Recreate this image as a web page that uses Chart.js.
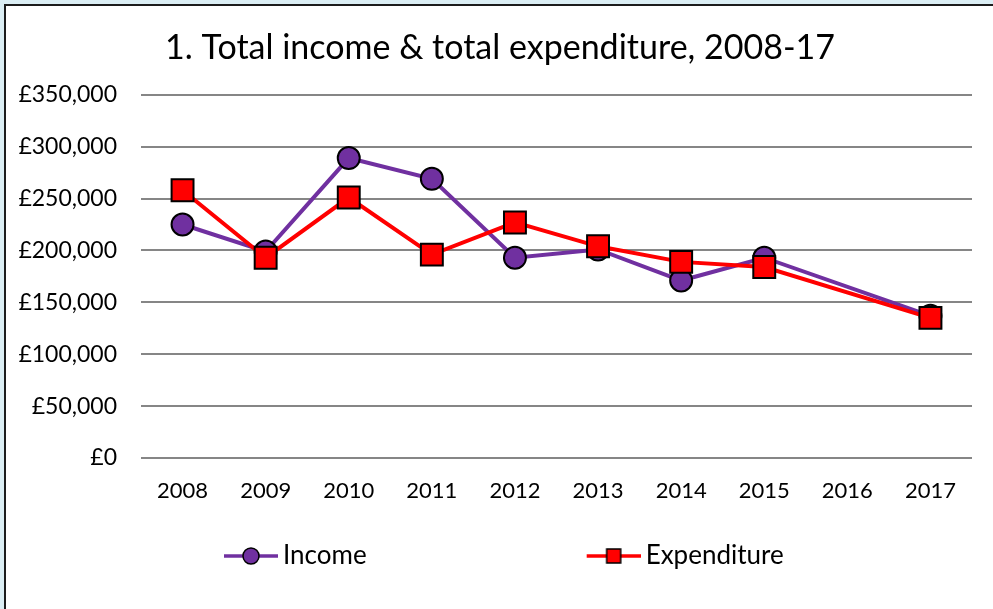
<!DOCTYPE html>
<html>
<head>
<meta charset="utf-8">
<title>Total income & total expenditure, 2008-17</title>
<script src="https://cdn.jsdelivr.net/npm/chart.js@4.4.1/dist/chart.umd.min.js"></script>
<style>
  html, body { margin: 0; padding: 0; background: #dbeef4; overflow: hidden; }
  #frame {
    position: absolute; left: 4px; top: 4px; width: 1000px; height: 620px;
    background: #fff; border-left: 2px solid #1c1c1c; border-top: 2px solid #1c1c1c;
  }
  #chart { position: absolute; left: 0; top: 0; }
</style>
</head>
<body>
<div id="frame"></div>
<canvas id="chart" width="993" height="609"></canvas>
<script>
// data (2016 has no value, lines join 2015 to 2017)
const years = ['2008', '2009', '2010', '2011', '2012', '2013', '2014', '2015', '2016', '2017'];
const income = [225000, 199000, 289000, 269000, 193000, 201000, 171000, 193000, null, 137000];
const expenditure = [258000, 193000, 251000, 196000, 227000, 204000, 189000, 184000, null, 135000];
const yTicks = [0, 50000, 100000, 150000, 200000, 250000, 300000, 350000];

const FONT = 'Lato, "Open Sans", sans-serif';
const PURPLE = '#7030a0';
const RED = '#ff0000';

// legend box is wide so the two entries sit far apart; the icon sits at its right end
const LEG_BOX = 256;

function makeIcon(color, shape) {
  const c = document.createElement('canvas');
  c.width = LEG_BOX + 16;
  c.height = 30;
  const g = c.getContext('2d');
  const x0 = c.width - 54, cx = c.width - 27, cy = 15;
  g.strokeStyle = color;
  g.lineWidth = 3.5;
  g.beginPath(); g.moveTo(x0, cy); g.lineTo(c.width, cy); g.stroke();
  g.fillStyle = color;
  g.strokeStyle = '#000';
  g.lineWidth = 1.5;
  g.beginPath();
  if (shape === 'circle') g.arc(cx, cy, 8, 0, Math.PI * 2);
  else g.rect(cx - 7, cy - 7, 14, 14);
  g.fill(); g.stroke();
  return c;
}

const fmt = v => '£' + v.toLocaleString('en-GB');

// the title sits a little right of the canvas centre in the original
const titleShift = {
  id: 'titleShift',
  afterLayout(chart) { chart.titleBlock.left += 24; }
};

new Chart(document.getElementById('chart'), {
  type: 'line',
  data: {
    labels: years,
    datasets: [
      {
        label: 'Income',
        data: income,
        borderColor: PURPLE,
        backgroundColor: PURPLE,
        borderWidth: 4,
        pointStyle: 'circle',
        pointRadius: 11,
        pointBackgroundColor: PURPLE,
        pointBorderColor: '#000',
        pointBorderWidth: 2,
        spanGaps: true,
        tension: 0,
        order: 2
      },
      {
        label: 'Expenditure',
        data: expenditure,
        borderColor: RED,
        backgroundColor: RED,
        borderWidth: 4,
        pointStyle: 'rect',
        pointRadius: 15.5,
        pointBackgroundColor: RED,
        pointBorderColor: '#000',
        pointBorderWidth: 2,
        spanGaps: true,
        tension: 0,
        order: 1
      }
    ]
  },
  options: {
    responsive: false,
    animation: false,
    layout: { padding: { left: 4, right: 21, top: 0, bottom: 30 } },
    plugins: {
      title: {
        display: true,
        text: '1. Total income & total expenditure, 2008-17',
        color: '#000',
        font: { family: FONT, size: 34, weight: 'normal' },
        padding: { top: 28, bottom: 26 }
      },
      legend: {
        position: 'bottom',
        align: 'start',
        labels: {
          color: '#000',
          font: { family: FONT, size: 26 },
          usePointStyle: true,
          pointStyleWidth: LEG_BOX,
          boxWidth: LEG_BOX,
          padding: 10,
          generateLabels: () => [
            { text: 'Income', pointStyle: makeIcon(PURPLE, 'circle'), datasetIndex: 0, fontColor: '#000' },
            { text: 'Expenditure', pointStyle: makeIcon(RED, 'rect'), datasetIndex: 1, fontColor: '#000' }
          ]
        }
      },
      tooltip: { enabled: false }
    },
    scales: {
      x: {
        offset: true,
        grid: { display: false, drawTicks: false },
        border: { display: false },
        ticks: { color: '#000', font: { family: FONT, size: 22 }, padding: 20, maxRotation: 0 },
        afterFit(s) { s.height = 75; }
      },
      y: {
        min: 0,
        max: 350000,
        afterBuildTicks(s) { s.ticks = yTicks.map(v => ({ value: v })); },
        grid: { color: '#868686', lineWidth: 2, drawTicks: false },
        border: { display: false },
        ticks: { color: '#000', font: { family: FONT, size: 23 }, padding: 24, callback: v => fmt(v) },
        afterFit(s) { s.width = 137; }
      }
    }
  },
  plugins: [titleShift]
});
</script>
</body>
</html>
